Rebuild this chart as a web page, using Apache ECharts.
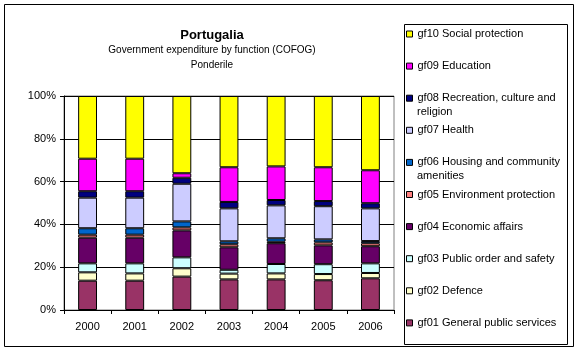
<!DOCTYPE html>
<html style="height: 100%">
<head>
    <meta charset="UTF-8">
    <title>Portugalia - COFOG</title>
    <script src="https://cdn.jsdelivr.net/npm/echarts@6/dist/echarts.min.js"></script>
</head>
<body style="height: 100%; margin: 0; background: #fff">
    <div id="main" style="width: 576px; height: 351px;"></div>
    <script>
        // years on the x axis
        var years = ['2000', '2001', '2002', '2003', '2004', '2005', '2006'];

        // series names, bottom of the stack first
        var names = [
            'gf01 General public services',
            'gf02 Defence',
            'gf03 Public order and safety',
            'gf04 Economic affairs',
            'gf05 Environment protection',
            'gf06 Housing and community amenities',
            'gf07 Health',
            'gf08 Recreation, culture and religion',
            'gf09 Education',
            'gf10 Social protection'
        ];

        // shares in percent
        var gf01 = [13.7, 13.7, 15.6, 14.3, 14.3, 13.9, 14.8];
        var gf02 = [3.9, 3.4, 3.9, 2.7, 2.8, 2.9, 2.5];
        var gf03 = [4.2, 4.7, 5.1, 1.8, 4.4, 4.6, 4.5];
        var gf04 = [12.0, 12.0, 12.6, 10.5, 9.7, 8.8, 8.0];
        var gf05 = [1.4, 1.4, 1.4, 1.4, 0.7, 1.4, 1.4];
        var gf06 = [3.0, 3.0, 2.8, 1.4, 1.6, 1.4, 1.0];
        var gf07 = [14.3, 14.3, 17.6, 15.4, 15.4, 15.5, 15.3];
        var gf08 = [3.0, 3.0, 2.8, 3.0, 2.5, 2.4, 2.4];
        var gf09 = [15.2, 15.2, 2.1, 16.2, 15.7, 15.8, 15.4];
        var gf10 = [29.3, 29.3, 36.1, 33.3, 32.9, 33.3, 34.7];

        var values = [gf01, gf02, gf03, gf04, gf05, gf06, gf07, gf08, gf09, gf10];

        var colors = ['#993366', '#FFFFCC', '#CCFFFF', '#660066', '#FF8080',
                      '#0066CC', '#CCCCFF', '#000080', '#FF00FF', '#FFFF00'];

        // long legend names wrap onto a second line in the original
        var legendWrap = {
            'gf06 Housing and community amenities': ['gf06 Housing and community', 'amenities'],
            'gf08 Recreation, culture and religion': ['gf08 Recreation, culture and', 'religion']
        };

        var font = 'Liberation Sans, Arial, sans-serif';
        var myChart = echarts.init(document.getElementById('main'));

        var series = names.map(function (name, i) {
            return {
                name: name,
                type: 'bar',
                stack: 'total',
                barWidth: '40%',
                data: values[i],
                itemStyle: { color: colors[i], borderColor: '#000', borderWidth: 1 }
            };
        });

        // one legend block per entry, top entry is gf10
        var legendTop = function (i) { return 34 + i * 32.1 - 7; };
        var extraLines = [];
        var legends = names.slice().reverse().map(function (name, i) {
            if (legendWrap[name]) {
                extraLines.push({
                    type: 'text', silent: true,
                    x: 417, y: legendTop(i) + 14,
                    style: {
                        text: legendWrap[name][1],
                        fontFamily: font, fontSize: 11, fill: '#000',
                        lineHeight: 14, verticalAlign: 'top'
                    }
                });
            }
            return {
                orient: 'vertical',
                left: 406,
                top: legendTop(i),
                padding: 0,
                icon: 'rect',
                itemWidth: 6,
                itemHeight: 6,
                selectedMode: false,
                data: [name],
                itemStyle: { borderColor: '#000', borderWidth: 1 },
                formatter: function (n) { return legendWrap[n] ? legendWrap[n][0] : n; },
                textStyle: { fontFamily: font, fontSize: 11, color: '#000', lineHeight: 14 }
            };
        });

        var option = {
            animation: false,
            color: colors,
            title: {
                text: 'Portugalia',
                subtext: 'Government expenditure by function (COFOG)\nPonderile',
                left: 207,
                top: 24,
                textAlign: 'center',
                itemGap: 1,
                textStyle: { fontFamily: font, fontSize: 13, fontWeight: 'bold', color: '#000' },
                subtextStyle: { fontFamily: font, fontSize: 10, color: '#000', lineHeight: 15 }
            },
            legend: legends,
            grid: {
                left: 64,
                right: 182,
                top: 96,
                bottom: 41,
                show: true,
                borderColor: '#808080',
                borderWidth: 1
            },
            xAxis: {
                type: 'category',
                data: years,
                axisLine: { lineStyle: { color: '#000' } },
                axisTick: { show: true, length: 4, lineStyle: { color: '#000' } },
                axisLabel: { color: '#000', fontFamily: font, fontSize: 11, margin: 11 }
            },
            yAxis: {
                type: 'value',
                min: 0,
                max: 100,
                interval: 20,
                axisLine: { show: true, lineStyle: { color: '#000' } },
                axisTick: { show: true, length: 4, lineStyle: { color: '#000' } },
                axisLabel: { color: '#000', fontFamily: font, fontSize: 11, margin: 8, formatter: '{value}%' },
                splitLine: { lineStyle: { color: '#000', width: 1 } }
            },
            graphic: [
                {
                    type: 'rect', z: -1, silent: true,
                    shape: { x: 4.5, y: 4.5, width: 569, height: 342 },
                    style: { fill: 'none', stroke: '#000', lineWidth: 1 }
                },
                {
                    type: 'rect', z: -1, silent: true,
                    shape: { x: 404.5, y: 24.5, width: 163, height: 320 },
                    style: { fill: 'none', stroke: '#000', lineWidth: 1 }
                }
            ].concat(extraLines),
            series: series
        };

        myChart.setOption(option);
    </script>
</body>
</html>
